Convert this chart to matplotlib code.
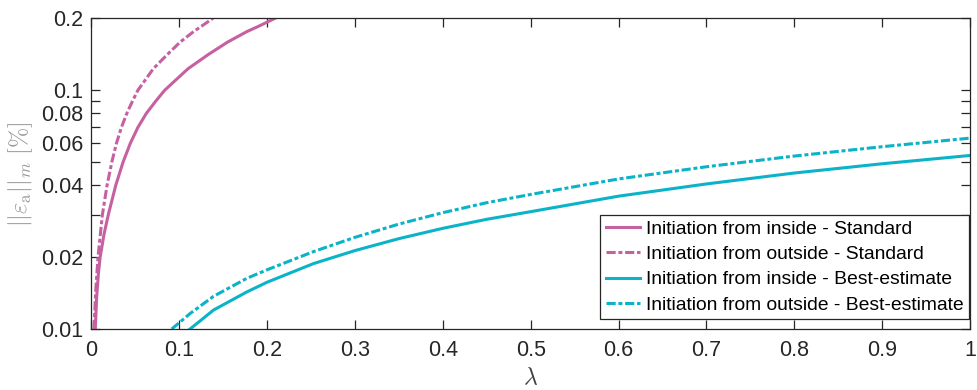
import matplotlib
matplotlib.use('Agg')
import matplotlib.pyplot as plt
from matplotlib.ticker import FixedLocator, NullLocator

plt.rcParams['font.family'] = ['Liberation Sans', 'DejaVu Sans']
plt.rcParams['mathtext.fontset'] = 'cm'

# values (lambda, error in %)
std_in_x = [0.0045, 0.006, 0.008, 0.010, 0.0145, 0.0192, 0.0278, 0.0361, 0.0444,
            0.0531, 0.0626, 0.0733, 0.0835, 0.110, 0.133, 0.155, 0.177, 0.190, 0.209]
std_in_y = [0.010, 0.0135, 0.017, 0.020, 0.025, 0.030, 0.040, 0.050, 0.060,
            0.070, 0.080, 0.090, 0.100, 0.123, 0.141, 0.159, 0.176, 0.185, 0.200]

std_out_x = [0.003, 0.005, 0.0076, 0.0125, 0.0179, 0.0233, 0.0286, 0.0343, 0.0404,
             0.0468, 0.053, 0.0705, 0.0864, 0.101, 0.1164, 0.125, 0.1384]
std_out_y = [0.010, 0.0145, 0.020, 0.030, 0.040, 0.050, 0.060, 0.070, 0.080,
             0.090, 0.100, 0.123, 0.141, 0.159, 0.176, 0.185, 0.200]

best_in_x = [0.1123, 0.125, 0.139, 0.177, 0.2, 0.253, 0.3, 0.35, 0.4, 0.45, 0.5,
             0.6, 0.7, 0.8, 0.9, 1.0]
best_in_y = [0.0100, 0.0109, 0.0120, 0.0143, 0.0157, 0.0188, 0.0213, 0.0239, 0.0264,
             0.0288, 0.0310, 0.0360, 0.0405, 0.0450, 0.0492, 0.0533]

best_out_x = [0.0915, 0.1123, 0.139, 0.177, 0.2, 0.253, 0.3, 0.35, 0.4, 0.45, 0.5,
              0.6, 0.7, 0.8, 0.9, 1.0]
best_out_y = [0.0100, 0.0116, 0.0137, 0.0163, 0.0177, 0.0211, 0.0242, 0.0275, 0.0307,
              0.0338, 0.0366, 0.0425, 0.0478, 0.0530, 0.0580, 0.0630]

labels = ['Initiation from inside - Standard',
          'Initiation from outside - Standard',
          'Initiation from inside - Best-estimate',
          'Initiation from outside - Best-estimate']

x_ticks = [0, 0.1, 0.2, 0.3, 0.4, 0.5, 0.6, 0.7, 0.8, 0.9, 1]
x_tick_labels = ['0', '0.1', '0.2', '0.3', '0.4', '0.5', '0.6', '0.7', '0.8', '0.9', '1']
y_ticks = [0.01, 0.02, 0.03, 0.04, 0.05, 0.06, 0.07, 0.08, 0.09, 0.1, 0.2]
y_tick_labels = ['0.01', '0.02', '', '0.04', '', '0.06', '', '0.08', '', '0.1', '0.2']

pink = '#c660a1'
cyan = '#0ab3c8'
dashdot = (0, (3, 0.9, 1.3, 0.9))

fig = plt.figure(figsize=(9.78, 3.9), dpi=100)
ax = fig.add_axes([0.0934, 0.1564, 0.8984, 0.7966])

ax.plot(std_in_x, std_in_y, color=pink, lw=2.2, label=labels[0])
ax.plot(std_out_x, std_out_y, color=pink, lw=2.2, ls=dashdot, label=labels[1])
ax.plot(best_in_x, best_in_y, color=cyan, lw=2.2, label=labels[2])
ax.plot(best_out_x, best_out_y, color=cyan, lw=2.2, ls=dashdot, label=labels[3])

ax.set_yscale('log')
ax.set_xlim(0, 1)
ax.set_ylim(0.01, 0.2)
ax.xaxis.set_major_locator(FixedLocator(x_ticks))
ax.set_xticklabels(x_tick_labels)
ax.yaxis.set_major_locator(FixedLocator(y_ticks))
ax.yaxis.set_minor_locator(NullLocator())
ax.set_yticklabels(y_tick_labels)

ax.tick_params(direction='in', length=6.5, width=0.9, labelsize=15.5,
               top=True, right=True, colors='#262626')
ax.tick_params(axis='x', pad=8)
ax.tick_params(axis='y', pad=6)
for s in ax.spines.values():
    s.set_linewidth(0.9)
    s.set_color('#262626')

ax.set_xlabel(r'$\lambda$', fontsize=17, color='#404040', labelpad=4)
ax.set_ylabel(r'$||\varepsilon_\mathrm{a}||_m\ [\%]$', fontsize=17.5, color='#999999',
              labelpad=4)

leg = ax.legend(loc='lower right', bbox_to_anchor=(0.9989, 0.031), borderaxespad=0,
                fontsize=13.9, handlelength=1.75, handletextpad=0.3,
                borderpad=0.3, labelspacing=0.4, fancybox=False, framealpha=1,
                edgecolor='#262626')
leg.get_frame().set_linewidth(0.9)

fig.savefig('out.png', dpi=100)
